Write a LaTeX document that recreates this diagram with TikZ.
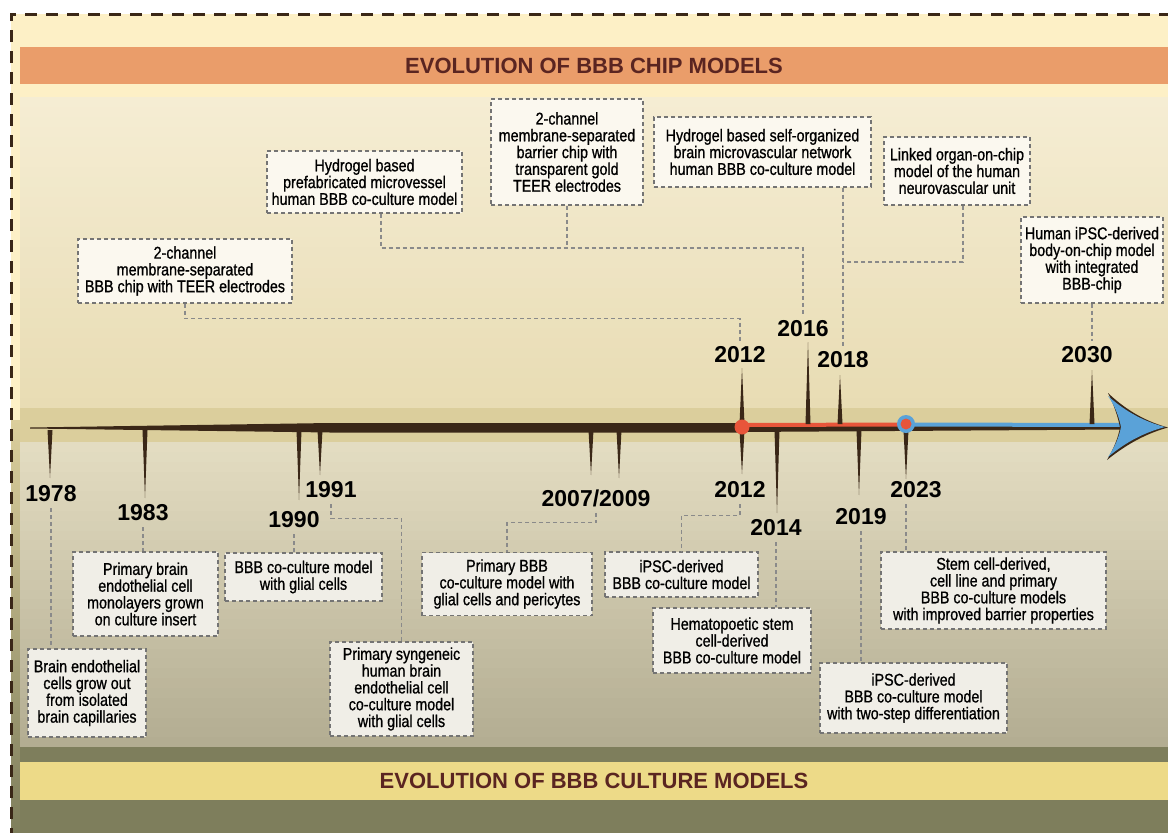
\documentclass[tikz,border=0pt]{standalone}
\usepackage{fontspec}
\setmainfont{Liberation Sans}
\newfontfamily\narrowfont{Liberation Sans}[FakeStretch=0.84, FakeBold=0.9]
\usepackage{tikz}
\usetikzlibrary{positioning}
\usetikzlibrary{calc}
\usetikzlibrary{arrows.meta}
\definecolor{creamtop}{HTML}{FDF0C6}
\definecolor{orangeband}{HTML}{EA9D6A}
\definecolor{titlebrown}{HTML}{5A2521}
\definecolor{upperA}{HTML}{F5EDD3}
\definecolor{upperB}{HTML}{E8DCB4}
\definecolor{axisband}{HTML}{DBCE9C}
\definecolor{lowerA}{HTML}{E3DCC1}
\definecolor{lowerB}{HTML}{B3AD92}
\definecolor{bandolive}{HTML}{7E7E5C}
\definecolor{yellowband}{HTML}{EDDA88}
\definecolor{axisbrown}{HTML}{3A2717}
\definecolor{redc}{HTML}{E8553A}
\definecolor{bluec}{HTML}{5AA2D8}
\definecolor{boxgray}{HTML}{747474}
\definecolor{conngray}{HTML}{8A8A8A}
\definecolor{chipfill}{HTML}{FBF8EF}
\definecolor{cultfill}{HTML}{F0EEE7}
\tikzstyle{conn} = [draw, 
dash pattern=on 4pt off 3pt, line width=1.3pt,
color=conngray]

\begin{document}
\begin{tikzpicture}[x=1pt, y=-1pt,
		chipbox/.style={draw=boxgray, fill=chipfill, dash pattern=on 4pt off 3pt,
			line width=1.3pt, inner xsep=3pt, inner ysep=0pt, align=center,
			text=black, font=\narrowfont\fontsize{17}{16.8}\selectfont},
		cultbox/.style={chipbox, fill=cultfill},
		year/.style={font=\bfseries\fontsize{23}{26}\selectfont, inner xsep=1pt, inner ysep=6pt},
		bandtitle/.style={font=\bfseries\fontsize{22}{26}\selectfont, text=titlebrown},
		spike/.style={fill=axisbrown}]
		\useasboundingbox (0,0) rectangle (1168,833);
		\clip (0,0) rectangle (1168,833);
		%% Background
		\fill[white] (0,0) rectangle (1168,833);
		\fill[creamtop] (11,14) rectangle (1168,420);
		\shade[top color=axisband, bottom color=bandolive] (11,420) rectangle (30,833);
		\fill[orangeband] (20,47) rectangle (1168,84);
		\foreach \i in {0,...,30} {
			\pgfmathsetmacro\p{100*\i/30}
			\fill[upperB!\p!upperA] (20,{97+\i*10.03}) rectangle (1168,{97+(\i+1)*10.03+0.6});
			\fill[lowerB!\p!lowerA] (20,{442+\i*9.84}) rectangle (1168,{442+(\i+1)*9.84+0.6});
		}
		\fill[axisband] (20,408) rectangle (1168,442);
		\fill[bandolive] (20,747) rectangle (1168,833);
		\fill[yellowband] (20,762) rectangle (1168,800);
		\draw[axisbrown, line width=3pt, dash pattern=on 12pt off 9pt] (11,840) -- (11,14) -- (1172,14);
		\node [bandtitle] at (594,66) (chiptitle) {EVOLUTION OF BBB CHIP MODELS};
		\node [bandtitle] at (594,781) (culttitle) {EVOLUTION OF BBB CULTURE MODELS};
		%% Axis
		\fill[axisbrown] (30,427.5) -- (330,423) -- (742,423) -- (742,432.5) -- (330,432.5) -- (30,428.5) -- cycle;
		\fill[axisbrown] (742,423) -- (1122,424) -- (1122,429.5) -- (742,432) -- cycle;
		\draw[redc, line width=4pt] (742,425) -- (906,424.5);
		\draw[bluec, line width=4pt] (906,424.5) -- (1124,425);
		\fill[axisbrown] (1108,393) .. controls (1128,412) and (1148,422) .. (1168,427.5)
			.. controls (1148,433) and (1128,443) .. (1107,460)
			.. controls (1114,448) and (1118,438) .. (1120,427.5)
			.. controls (1118,417) and (1114,405) .. (1108,393) -- cycle;
		\fill[bluec] (1108,396) .. controls (1127,413) and (1146,422) .. (1165,427)
			.. controls (1146,432) and (1127,441) .. (1108,457)
			.. controls (1115,447) and (1119,437) .. (1121,427)
			.. controls (1119,417) and (1115,406) .. (1108,396) -- cycle;
		%% Ticks
		\foreach \x/\e in {50/478, 145/498, 299/500, 320/475, 591/475, 619/478, 742/474, 777/513, 859/495, 906/479}
			\fill[spike] ({\x-2.5},430) -- (\x,\e) -- ({\x+2.5},430) -- cycle;
		\foreach \x/\e in {742/368, 808/342, 840/375, 1092/370}
			\fill[spike] ({\x-2.5},424) -- (\x,\e) -- ({\x+2.5},424) -- cycle;
		\node [circle, fill=redc, minimum size=15pt, inner sep=0pt] at (742,427) (d12) {};
		\node [circle, fill=bluec, minimum size=18pt, inner sep=0pt] at (906,424) (d23) {};
		\node [circle, fill=redc, minimum size=11pt, inner sep=0pt] at (d23) (d23c) {};
		%% Years
		\node [year] at (51,494) (y78) {1978};
		\node [year] at (143,513) (y83) {1983};
		\node [year] at (294,520) (y90) {1990};
		\node [year] at (331,490) (y91) {1991};
		\node [year] at (596,498) (y0709) {2007/2009};
		\node [year] at (740,490) (y12d) {2012};
		\node [year] at (776,528) (y14) {2014};
		\node [year] at (861,517) (y19) {2019};
		\node [year] at (916,490) (y23) {2023};
		\node [year] at (740,355) (y12u) {2012};
		\node [year] at (803,329) (y16) {2016};
		\node [year] at (843,360) (y18) {2018};
		\node [year] at (1087,355) (y30) {2030};
		%% Chip models
		\node [chipbox, minimum width=214pt, minimum height=64pt] at (185,271) (A) {2-channel\\membrane-separated\\BBB chip with TEER electrodes};
		\node [chipbox, minimum width=195pt, minimum height=62pt] at (364.5,182) (B) {Hydrogel based\\prefabricated microvessel\\human BBB co-culture model};
		\node [chipbox, minimum width=152pt, minimum height=106pt] at (567,152) (C) {2-channel\\membrane-separated\\barrier chip with\\transparent gold\\TEER electrodes};
		\node [chipbox, minimum width=217pt, minimum height=70pt] at (762.5,152) (D) {Hydrogel based self-organized\\brain microvascular network\\human BBB co-culture model};
		\node [chipbox, minimum width=146pt, minimum height=68pt] at (957,171) (E) {Linked organ-on-chip\\model of the human\\neurovascular unit};
		\node [chipbox, minimum width=142pt, minimum height=86pt] at (1092,260) (F) {Human iPSC-derived\\body-on-chip model\\with integrated\\BBB-chip};
		%% Culture models
		\node [cultbox, minimum width=118pt, minimum height=88pt] at (87,693) (G) {Brain endothelial\\cells grow out\\from isolated\\brain capillaries};
		\node [cultbox, minimum width=145pt, minimum height=84pt] at (145.5,594) (H) {Primary brain\\endothelial cell\\monolayers grown\\on culture insert};
		\node [cultbox, minimum width=157pt, minimum height=48pt] at (303.5,577) (I) {BBB co-culture model\\with glial cells};
		\node [cultbox, minimum width=143pt, minimum height=94pt] at (401.5,689) (J) {Primary syngeneic\\human brain\\endothelial cell\\co-culture model\\with glial cells};
		\node [cultbox, minimum width=170pt, minimum height=63pt] at (507,584) (K) {Primary BBB\\co-culture model with\\glial cells and pericytes};
		\node [cultbox, minimum width=153pt, minimum height=45pt] at (681.5,574.5) (L) {iPSC-derived\\BBB co-culture model};
		\node [cultbox, minimum width=158pt, minimum height=65pt] at (732,640.5) (M) {Hematopoetic stem\\cell-derived\\BBB co-culture model};
		\node [cultbox, minimum width=187pt, minimum height=70pt] at (913.5,698) (N) {iPSC-derived\\BBB co-culture model\\with two-step differentiation};
		\node [cultbox, minimum width=225pt, minimum height=77pt] at (993.5,590.5) (O) {Stem cell-derived,\\cell line and primary\\BBB co-culture models\\with improved barrier properties};
		%% Links
		\coordinate (jB) at (381,248);
		\coordinate (jE) at (963,262);
		\path [conn] (A.south) -- ++(0,15) -| (y12u.north);
		\path [conn] (jB |- B.south) -- (jB) -| (y16.north);
		\path [conn] (C.south) -- (C.south |- jB);
		\path [conn] (y18.north |- D.south) -- (y18.north);
		\path [conn] (jE |- E.south) -- (jE) -- (jE -| y18.north);
		\path [conn] (F.south) -- (F.south |- y30.north);
		\path [conn] (y78.south) -- (y78.south |- G.north);
		\path [conn] (y83.south) -- (y83.south |- H.north);
		\path [conn] (y90.south) -- (y90.south |- I.north);
		\path [conn] (y91.south) -- ++(0,14) -| (J.north);
		\path [conn] (y0709.south) -- ++(0,10) -| (K.north);
		\path [conn] (y12d.south) -- ++(0,11) -| (L.north);
		\path [conn] (y14.south) -- (y14.south |- M.north);
		\path [conn] (y19.south) -- (y19.south |- N.north);
		\path [conn] (d23 |- y23.south) -- (d23 |- O.north);
	\end{tikzpicture}
\end{document}
